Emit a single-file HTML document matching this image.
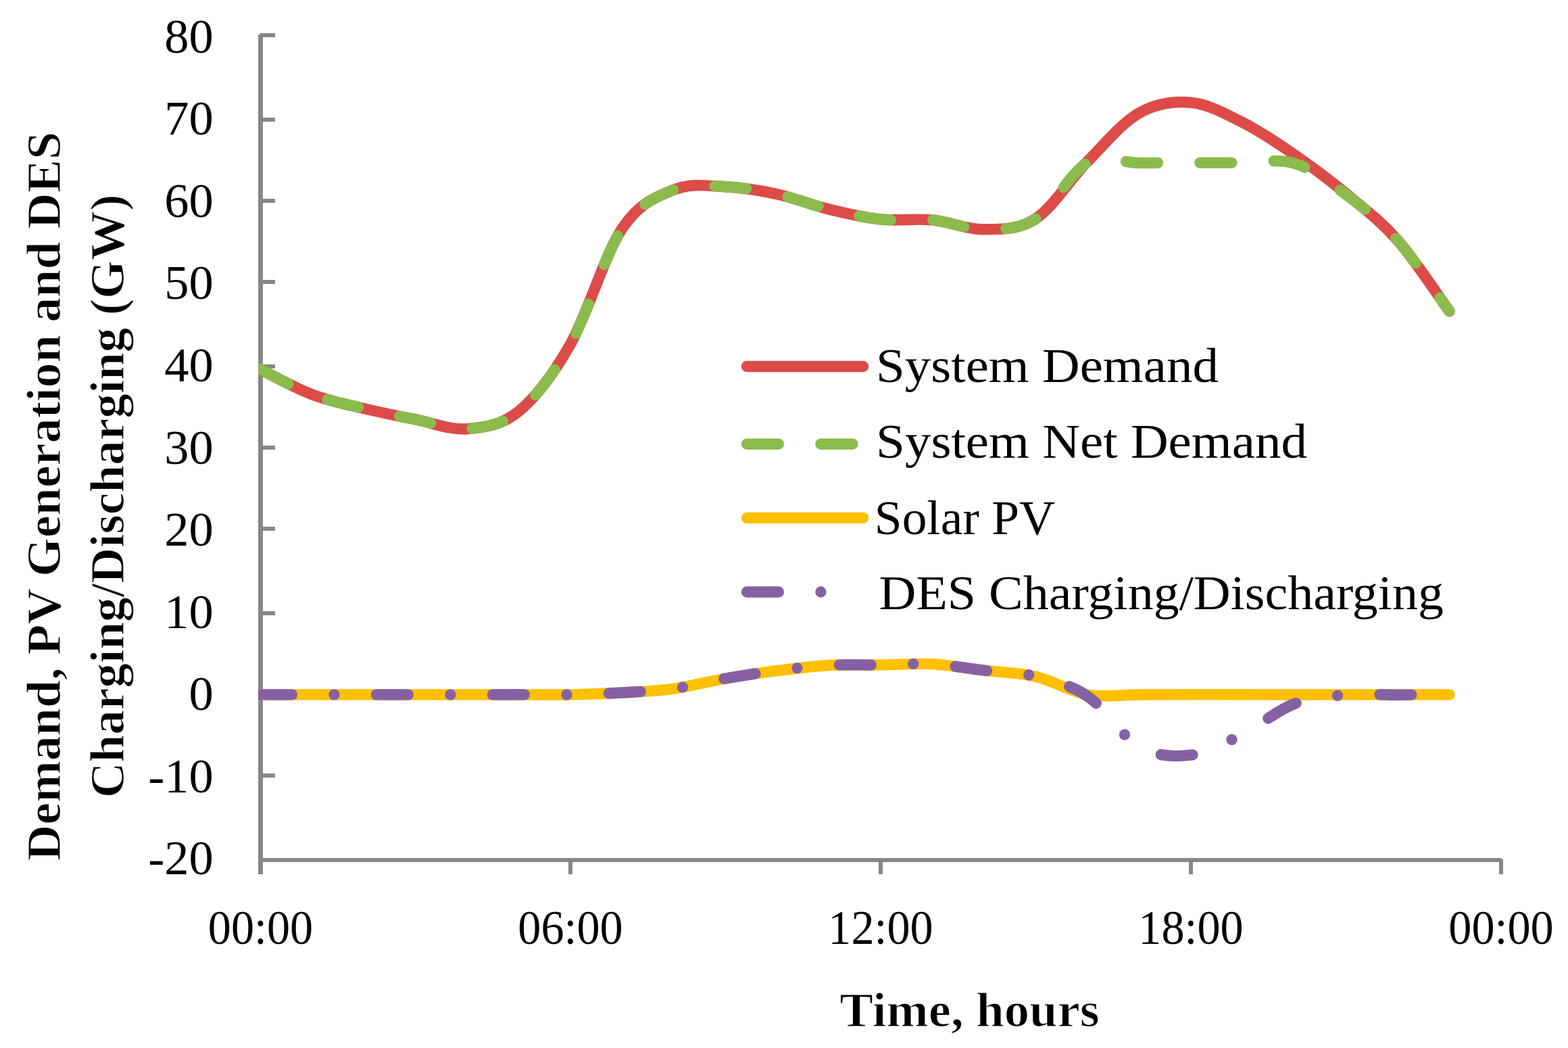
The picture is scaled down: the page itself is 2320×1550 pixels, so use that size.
<!DOCTYPE html>
<html><head><meta charset="utf-8"><title>Demand, PV Generation and DES Charging/Discharging</title>
<style>html,body{margin:0;padding:0;background:#fff;overflow:hidden}svg{display:block}</style>
</head><body>
<svg width="2320" height="1550" viewBox="0 0 2320 1550"><rect x="0" y="0" width="2320" height="1550" fill="#fff"/>
<rect x="382" y="51" width="7" height="1242" fill="#878787"/>
<rect x="382" y="1269" width="1840" height="6" fill="#878787"/>
<rect x="385" y="49" width="22" height="6" fill="#878787"/>
<rect x="385" y="174" width="22" height="6" fill="#878787"/>
<rect x="385" y="294" width="22" height="6" fill="#878787"/>
<rect x="385" y="414" width="22" height="6" fill="#878787"/>
<rect x="385" y="539" width="22" height="6" fill="#878787"/>
<rect x="385" y="659" width="22" height="6" fill="#878787"/>
<rect x="385" y="779" width="22" height="6" fill="#878787"/>
<rect x="385" y="904" width="22" height="6" fill="#878787"/>
<rect x="385" y="1024" width="22" height="6" fill="#878787"/>
<rect x="385" y="1144" width="22" height="6" fill="#878787"/>
<rect x="385" y="1269" width="22" height="6" fill="#878787"/>
<rect x="841" y="1271" width="6" height="22" fill="#878787"/>
<rect x="1300" y="1271" width="6" height="22" fill="#878787"/>
<rect x="1759" y="1271" width="6" height="22" fill="#878787"/>
<rect x="2218" y="1271" width="6" height="22" fill="#878787"/>
<defs><clipPath id="pa"><rect x="382" y="0" width="1938" height="1550"/></clipPath></defs><g clip-path="url(#pa)">
<path d="M385.00,546.19 C397.75,552.39 436.00,573.75 461.50,583.40 C487.00,593.05 512.50,597.95 538.00,604.10 C563.50,610.25 589.00,615.27 614.50,620.31 C640.00,625.35 665.50,636.31 691.00,634.32 C716.50,632.34 742.00,629.29 767.50,608.40 C793.00,587.50 818.50,554.03 844.00,508.96 C869.50,463.89 895.00,376.03 920.50,337.97 C946.00,299.91 971.50,290.87 997.00,280.58 C1022.50,270.29 1048.00,275.15 1073.50,276.24 C1099.00,277.33 1124.50,281.60 1150.00,287.14 C1175.50,292.67 1201.00,303.23 1226.50,309.45 C1252.00,315.67 1277.50,321.80 1303.00,324.45 C1328.50,327.10 1354.00,322.87 1379.50,325.34 C1405.00,327.80 1430.50,339.59 1456.00,339.25 C1481.50,338.91 1507.00,340.03 1532.50,323.29 C1558.00,306.55 1583.50,264.81 1609.00,238.80 C1634.50,212.79 1660.00,181.76 1685.50,167.23 C1711.00,152.71 1736.50,149.37 1762.00,151.67 C1787.50,153.96 1813.00,168.18 1838.50,181.01 C1864.00,193.84 1889.50,211.10 1915.00,228.66 C1940.50,246.22 1966.00,265.24 1991.50,286.38 C2017.00,307.52 2042.50,326.49 2068.00,355.49 C2093.50,384.50 2131.75,442.92 2144.50,460.41" fill="none" stroke="#DC4B48" stroke-width="16.4" stroke-linejoin="round" stroke-linecap="round"/>
<path d="M385.00,546.19 C397.75,552.39 436.00,573.75 461.50,583.40 C487.00,593.05 512.50,597.95 538.00,604.10 C563.50,610.25 589.00,615.27 614.50,620.31 C640.00,625.35 665.50,636.31 691.00,634.32 C716.50,632.34 742.00,629.29 767.50,608.40 C793.00,587.50 818.50,554.03 844.00,508.96 C869.50,463.89 895.00,376.03 920.50,337.97 C946.00,299.91 971.50,290.87 997.00,280.58 C1022.50,270.29 1048.00,275.15 1073.50,276.24 C1099.00,277.33 1124.50,281.60 1150.00,287.14 C1175.50,292.67 1201.00,303.24 1226.50,309.45 C1252.00,315.67 1277.50,321.79 1303.00,324.44 C1328.50,327.09 1354.00,322.91 1379.50,325.36 C1405.00,327.82 1430.50,339.45 1456.00,339.18 C1481.50,338.91 1507.00,340.17 1532.50,323.74 C1558.00,307.31 1583.50,254.39 1609.00,240.60 C1634.50,226.81 1660.00,240.98 1685.50,241.00 C1711.00,241.02 1736.50,240.75 1762.00,240.72 C1787.50,240.69 1813.00,240.65 1838.50,240.81 C1864.00,240.97 1889.50,233.85 1915.00,241.66 C1940.50,249.47 1966.00,268.67 1991.50,287.65 C2017.00,306.62 2042.50,326.73 2068.00,355.54 C2093.50,384.34 2131.75,442.98 2144.50,460.47" fill="none" stroke="#8BBB4C" stroke-width="16.4" stroke-linejoin="round" stroke-linecap="round" stroke-dasharray="46.905 62.540"/>
<path d="M385.00,1027.41 C397.75,1027.41 436.00,1027.40 461.50,1027.40 C487.00,1027.40 512.50,1027.40 538.00,1027.40 C563.50,1027.40 589.00,1027.39 614.50,1027.40 C640.00,1027.40 665.50,1027.43 691.00,1027.42 C716.50,1027.41 742.00,1027.33 767.50,1027.33 C793.00,1027.33 818.50,1027.88 844.00,1027.40 C869.50,1026.92 895.00,1025.95 920.50,1024.47 C946.00,1022.99 971.50,1022.01 997.00,1018.51 C1022.50,1015.02 1048.00,1007.93 1073.50,1003.50 C1099.00,999.08 1124.50,995.24 1150.00,991.98 C1175.50,988.72 1201.00,985.35 1226.50,983.94 C1252.00,982.53 1277.50,983.80 1303.00,983.50 C1328.50,983.20 1354.00,980.83 1379.50,982.16 C1405.00,983.49 1430.50,988.39 1456.00,991.48 C1481.50,994.57 1507.00,994.70 1532.50,1000.71 C1558.00,1006.71 1583.50,1023.05 1609.00,1027.52 C1634.50,1031.98 1660.00,1027.55 1685.50,1027.50 C1711.00,1027.44 1736.50,1027.22 1762.00,1027.18 C1787.50,1027.14 1813.00,1027.22 1838.50,1027.26 C1864.00,1027.30 1889.50,1027.40 1915.00,1027.43 C1940.50,1027.45 1966.00,1027.40 1991.50,1027.39 C2017.00,1027.39 2042.50,1027.40 2068.00,1027.40 C2093.50,1027.41 2131.75,1027.40 2144.50,1027.40" fill="none" stroke="#FFC000" stroke-width="16.4" stroke-linejoin="round" stroke-linecap="round"/>
<path d="M385.00,1027.40 C397.75,1027.40 436.00,1027.40 461.50,1027.40 C487.00,1027.40 512.50,1027.40 538.00,1027.40 C563.50,1027.40 589.00,1027.39 614.50,1027.39 C640.00,1027.40 665.50,1027.43 691.00,1027.42 C716.50,1027.41 742.00,1027.33 767.50,1027.32 C793.00,1027.32 818.50,1027.88 844.00,1027.40 C869.50,1026.92 895.00,1025.92 920.50,1024.44 C946.00,1022.96 971.50,1022.01 997.00,1018.52 C1022.50,1015.03 1048.00,1007.92 1073.50,1003.50 C1099.00,999.08 1124.50,995.24 1150.00,991.98 C1175.50,988.72 1201.00,985.34 1226.50,983.93 C1252.00,982.52 1277.50,983.82 1303.00,983.52 C1328.50,983.22 1354.00,980.78 1379.50,982.12 C1405.00,983.46 1430.50,988.51 1456.00,991.58 C1481.50,994.64 1507.00,994.16 1532.50,1000.51 C1558.00,1006.86 1583.50,1012.38 1609.00,1029.68 C1634.50,1046.97 1660.00,1089.78 1685.50,1104.29 C1711.00,1118.80 1736.50,1119.83 1762.00,1116.73 C1787.50,1113.64 1813.00,1098.35 1838.50,1085.73 C1864.00,1073.10 1889.50,1050.68 1915.00,1041.00 C1940.50,1031.32 1966.00,1029.89 1991.50,1027.67 C2017.00,1025.45 2042.50,1027.78 2068.00,1027.69 C2093.50,1027.61 2131.75,1027.24 2144.50,1027.15" fill="none" stroke="#8561A3" stroke-width="16.4" stroke-linejoin="round" stroke-linecap="round" stroke-dasharray="46.905 62.540 0 62.540"/>
</g>
<g style="font-family:'Liberation Serif',serif;font-size:72.5px" fill="#000"><text x="315.8" y="77.8" text-anchor="end">80</text><text x="315.8" y="199.3" text-anchor="end">70</text><text x="315.8" y="320.9" text-anchor="end">60</text><text x="315.8" y="442.4" text-anchor="end">50</text><text x="315.8" y="564.0" text-anchor="end">40</text><text x="315.8" y="685.5" text-anchor="end">30</text><text x="315.8" y="807.1" text-anchor="end">20</text><text x="315.8" y="928.6" text-anchor="end">10</text><text x="315.8" y="1050.2" text-anchor="end">0</text><text x="315.8" y="1171.8" text-anchor="end">-10</text><text x="315.8" y="1293.3" text-anchor="end">-20</text><text x="385.5" y="1395.5" text-anchor="middle" textLength="155.5" lengthAdjust="spacingAndGlyphs">00:00</text><text x="844.0" y="1395.5" text-anchor="middle" textLength="155.5" lengthAdjust="spacingAndGlyphs">06:00</text><text x="1303.0" y="1395.5" text-anchor="middle" textLength="155.5" lengthAdjust="spacingAndGlyphs">12:00</text><text x="1762.0" y="1395.5" text-anchor="middle" textLength="155.5" lengthAdjust="spacingAndGlyphs">18:00</text><text x="2221.0" y="1395.5" text-anchor="middle" textLength="155.5" lengthAdjust="spacingAndGlyphs">00:00</text></g>
<g style="font-family:'Liberation Serif',serif;font-size:71px" fill="#000"><line x1="1105" y1="542.0" x2="1277" y2="542.0" stroke="#DC4B48" stroke-width="16.4" stroke-linecap="round"/><line x1="1105" y1="656.7" x2="1277" y2="656.7" stroke="#8BBB4C" stroke-width="16.4" stroke-linecap="round" stroke-dasharray="46.905 62.540"/><line x1="1105" y1="766.0" x2="1277" y2="766.0" stroke="#FFC000" stroke-width="16.4" stroke-linecap="round"/><line x1="1105" y1="875.5" x2="1274" y2="875.5" stroke="#8561A3" stroke-width="16.4" stroke-linecap="round" stroke-dasharray="46.905 62.540 0 62.540"/><text x="1296.0" y="565.4" textLength="506.9" lengthAdjust="spacingAndGlyphs">System Demand</text><text x="1296.0" y="677.0" textLength="638.1" lengthAdjust="spacingAndGlyphs">System Net Demand</text><text x="1293.8" y="789.8" textLength="267.3" lengthAdjust="spacingAndGlyphs">Solar PV</text><text x="1300.5" y="900.6" textLength="835.5" lengthAdjust="spacingAndGlyphs">DES Charging/Discharging</text></g>
<text x="1434.6" y="1517.6" text-anchor="middle" textLength="384.5" lengthAdjust="spacingAndGlyphs" style="font-family:'Liberation Serif',serif;font-size:71px;font-weight:bold" stroke="#fff" stroke-width="1.2">Time, hours</text>
<g transform="translate(89,735) rotate(-90)" style="font-family:'Liberation Serif',serif;font-size:71px;font-weight:bold" stroke="#fff" stroke-width="1.2"><text x="1" y="0" text-anchor="middle" textLength="1078.4" lengthAdjust="spacingAndGlyphs">Demand, PV Generation and DES</text><text x="1.2" y="94" text-anchor="middle" textLength="893" lengthAdjust="spacingAndGlyphs">Charging/Discharging (GW)</text></g></svg>
</body></html>
